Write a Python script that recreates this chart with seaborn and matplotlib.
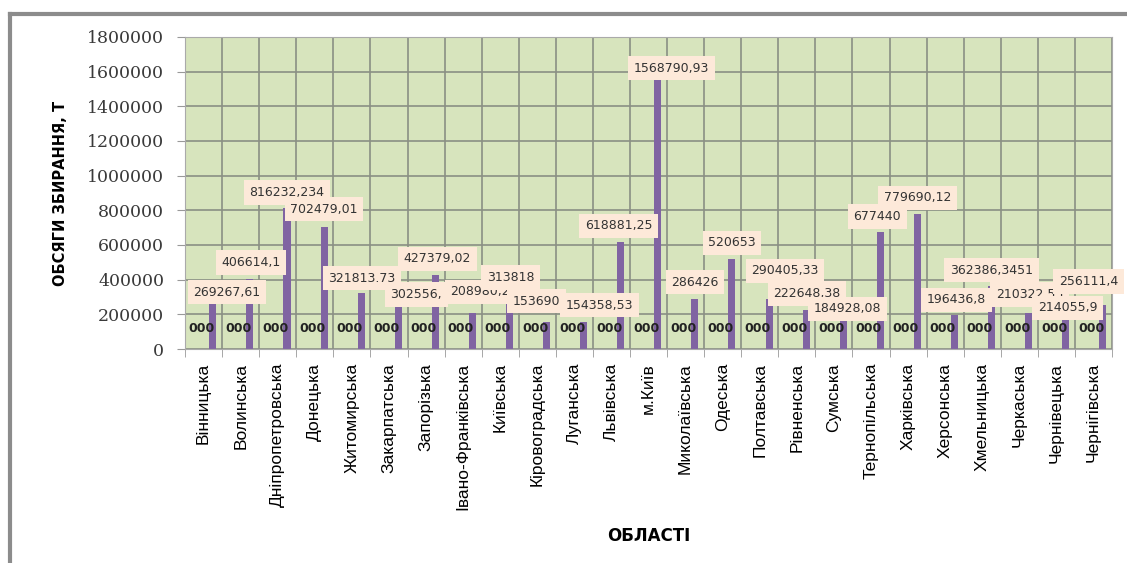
import pandas as pd
import matplotlib.pyplot as plt
import seaborn as sns
from matplotlib.lines import Line2D

regions = ['Вінницька', 'Волинська', 'Дніпропетровська', 'Донецька', 'Житомирська',
           'Закарпатська', 'Запорізька', 'Івано-Франківська', 'Київська', 'Кіровоградська',
           'Луганська', 'Львівська', 'м.Київ', 'Миколаївська', 'Одеська', 'Полтавська',
           'Рівненська', 'Сумська', 'Тернопільська', 'Харківська', 'Херсонська',
           'Хмельницька', 'Черкаська', 'Чернівецька', 'Чернігівська']
values = [269267.61, 406614.1, 816232.234, 702479.01, 321813.73,
          302556, 427379.02, 208980.2, 313818, 153690,
          154358.53, 618881.25, 1568790.93, 286426, 520653, 290405.33,
          222648.38, 184928.08, 677440, 779690.12, 196436.8,
          362386.3451, 210322.55, 214055.9, 256111.4]
value_labels = ['269267,61', '406614,1', '816232,234', '702479,01', '321813.73',
                '302556,', '427379,02', '208980,2', '313818', '153690',
                '154358,53', '618881,25', '1568790,93', '286426', '520653', '290405,33',
                '222648,38', '184928,08', '677440', '779690,12', '196436,8',
                '362386,3451', '210322,55', '214055,9', '256111,4']
zero_values = [0] * len(regions)
zero_label = '000'
yticks = list(range(0, 1800001, 200000))

# label nudges in pixels (dx, up), like hand-moved labels in the original
label_offsets = [(14, 10), (1, 16), (0, 15), (0, 18), (1, 15), (18, 2), (2, 16), (8, 21),
                 (1, 17), (-10, 21), (16, 17), (-2, 16), (14, 9), (0, 17), (0, 16), (16, 28),
                 (1, 17), (4, 8), (-3, 15), (0, 16), (2, 15), (0, 16), (1, 18), (2, 4), (-14, 23)]

df = pd.concat([
    pd.DataFrame({'region': regions, 'series': 'Ряд1', 'value': zero_values}),
    pd.DataFrame({'region': regions, 'series': 'Ряд2', 'value': values}),
])

fig = plt.figure(figsize=(11.27, 5.63), dpi=100)
ax = fig.add_axes([0.1642, 0.3801, 0.8225, 0.5542])
ax.set_facecolor('#d7e4bd')

sns.barplot(data=df, x='region', y='value', hue='series', order=regions,
            palette=['#4f81bd', '#8064a2'], width=1.0, gap=0.62, saturation=1,
            legend=False, ax=ax, zorder=2)

grid_c = '#8a8f84'
ax.set_ylim(0, 1800000)
ax.set_yticks(yticks)
ax.set_yticklabels([str(t) for t in yticks], family='DejaVu Serif', fontsize=12.5, color='#3a3a3a')
ax.set_xlim(-0.5, len(regions) - 0.5)
ax.set_xticks(range(len(regions)))
ax.set_xticklabels(regions, rotation=90, family='Liberation Sans', fontsize=12.5)
ax.set_xticks([i - 0.5 for i in range(len(regions) + 1)], minor=True)
ax.tick_params(axis='x', which='major', length=0, pad=10)
ax.tick_params(axis='x', which='minor', length=6, color='#999999')
ax.tick_params(axis='y', length=6, pad=9, color='#999999')
ax.grid(axis='y', color=grid_c, linewidth=1.2, zorder=0)
ax.grid(axis='x', which='minor', color=grid_c, linewidth=1.2, zorder=0)
ax.set_axisbelow(True)
for s in ax.spines.values():
    s.set_color('#aaaaaa')

ax.set_ylabel('ОБСЯГИ ЗБИРАННЯ, Т', fontsize=10.5, fontweight='bold', family='DejaVu Sans')
ax.yaxis.set_label_coords(-0.126, 0.5)
ax.set_xlabel('ОБЛАСТІ', fontsize=12, fontweight='bold', family='DejaVu Sans')
ax.xaxis.set_label_coords(0.5, -0.57)

zero_bars, value_bars = ax.containers[0], ax.containers[1]
for bar in zero_bars:
    ax.annotate(zero_label, (bar.get_x() + bar.get_width() / 2, bar.get_height()),
                xytext=(7, 21), textcoords='offset pixels', ha='center', va='center',
                fontsize=9, fontweight='bold', family='DejaVu Sans', color='#222222', zorder=3)

for bar, txt, (dx, dy) in zip(value_bars, value_labels, label_offsets):
    ax.annotate(txt, (bar.get_x() + bar.get_width() / 2, bar.get_height()),
                xytext=(dx, dy), textcoords='offset pixels', ha='center', va='center',
                fontsize=9, family='DejaVu Sans', color='#333333', zorder=4,
                bbox=dict(boxstyle='square,pad=0.45', fc='#fde9d9', ec='none'),
                annotation_clip=False)

fig.add_artist(Line2D([10 / 1127, 10 / 1127], [0, 1 - 14 / 563], color='#8c8c8c', linewidth=3))
fig.add_artist(Line2D([10 / 1127, 1], [1 - 14 / 563, 1 - 14 / 563], color='#8c8c8c', linewidth=3))

fig.savefig('out.png', dpi=100)
